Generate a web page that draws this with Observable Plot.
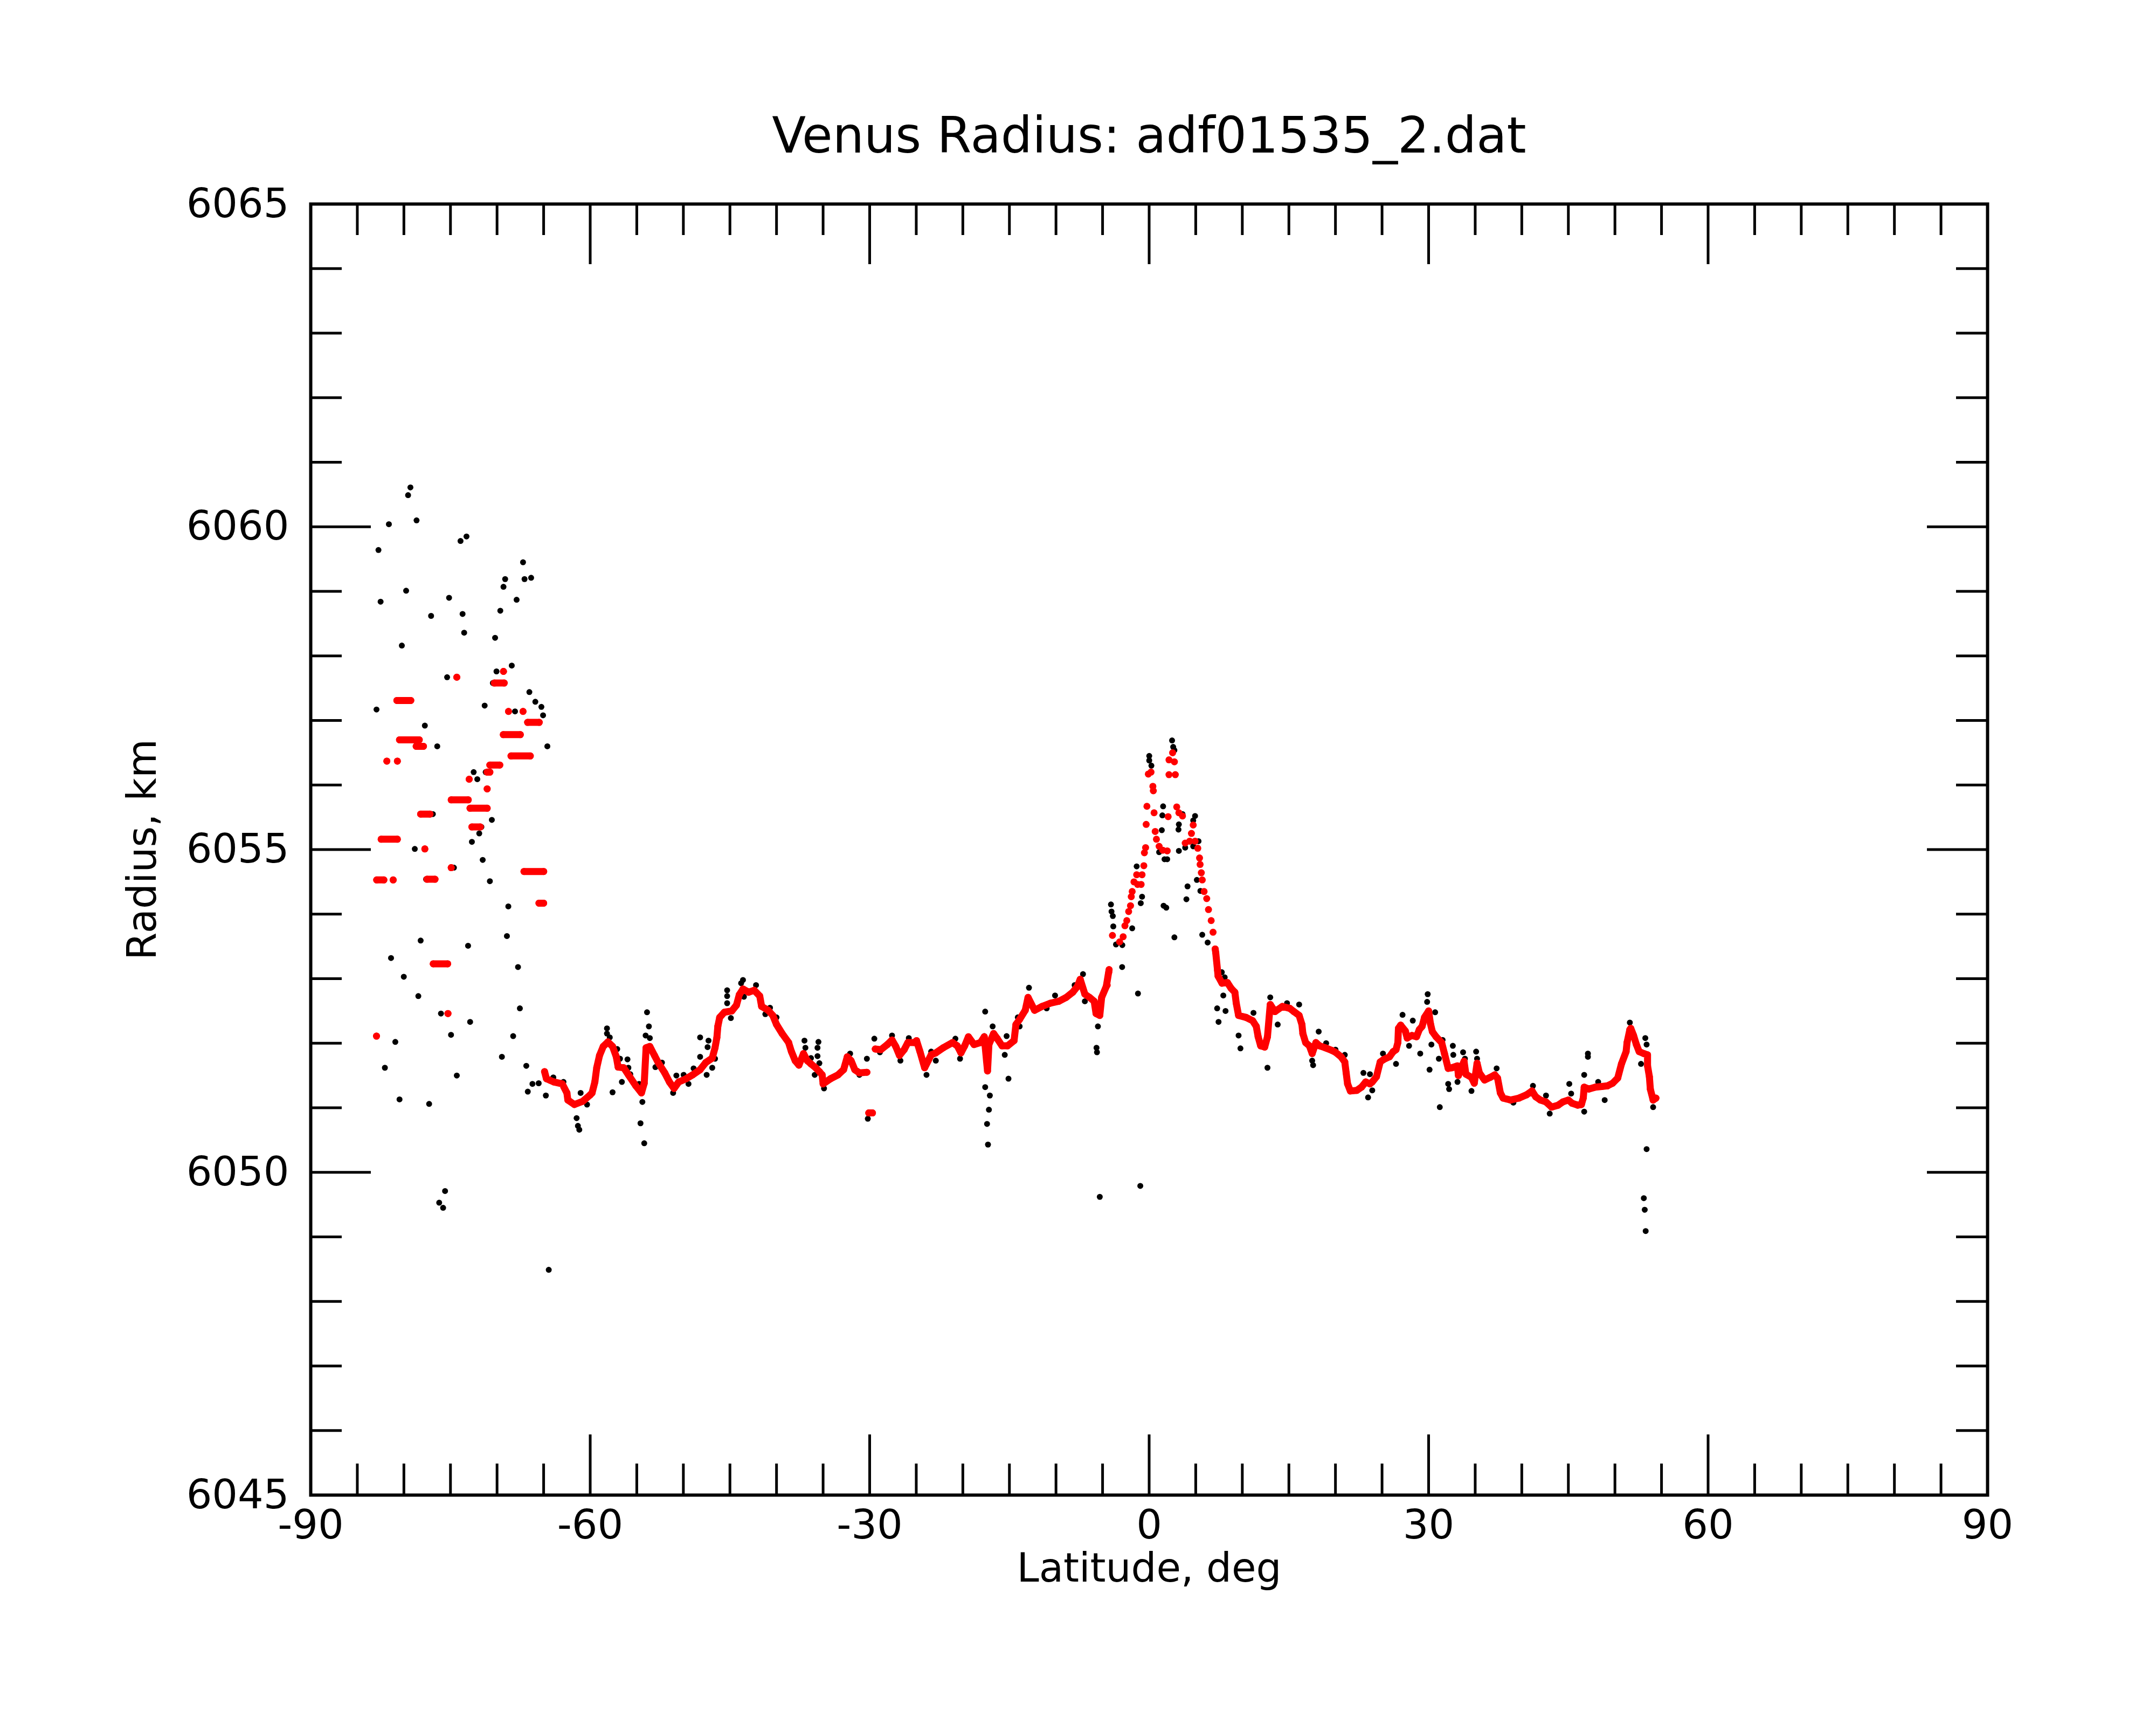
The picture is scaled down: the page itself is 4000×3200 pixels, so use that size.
<!DOCTYPE html>
<html>
<head>
<meta charset="utf-8">
<script src="https://cdn.jsdelivr.net/npm/d3@7"></script>
<script src="https://cdn.jsdelivr.net/npm/@observablehq/plot@0.6"></script>
<style>
html, body { margin: 0; padding: 0; background: #ffffff; }
</style>
</head>
<body>
<div id="chart"></div>
<script>
// ---------- Chart text ----------
const titleText = "Venus Radius: adf01535_2.dat";
const xLabel = "Latitude, deg";
const yLabel = "Radius, km";

// ---------- Axis ticks ----------
const xMajorTicks = [-90, -60, -30, 0, 30, 60, 90];
const xMinorTicks = [-85, -80, -75, -70, -65, -55, -50, -45, -40, -35, -25, -20, -15, -10, -5,
                     5, 10, 15, 20, 25, 35, 40, 45, 50, 55, 65, 70, 75, 80, 85];
const yMajorTicks = [6045, 6050, 6055, 6060, 6065];
const yMinorTicks = [6046, 6047, 6048, 6049, 6051, 6052, 6053, 6054, 6056, 6057, 6058, 6059,
                     6061, 6062, 6063, 6064];

// ---------- Raw radius samples (black), [latitude, radius] ----------
const blackPolarHigh = [
  [-79.30,6060.61],[-79.55,6060.49],[-78.64,6060.10],[-81.61,6060.04],[-82.73,6059.64],[-73.92,6059.78],
  [-73.28,6059.85],[-67.21,6059.45],[-69.13,6059.19],[-67.05,6059.19],[-66.34,6059.21],[-69.31,6059.07],
  [-79.76,6059.01],[-82.50,6058.84],[-75.15,6058.90],[-67.90,6058.87],[-77.08,6058.62],[-73.70,6058.65],
  [-69.65,6058.70],[-73.53,6058.36],[-70.21,6058.28],[-80.22,6058.16],[-68.42,6057.85],[-70.06,6057.76],
  [-75.36,6057.67],[-70.45,6057.58],[-66.53,6057.44],[-80.80,6057.31],[-82.94,6057.17],[-71.33,6057.23],
  [-65.89,6057.29],[-65.24,6057.21],[-65.06,6057.08],[-68.07,6057.14],[-77.75,6056.92],[-77.97,6056.60],
  [-76.42,6056.60],[-64.60,6056.60],[-69.79,6056.31],[-72.51,6056.20],[-71.22,6056.20],[-72.12,6056.09],
  [-76.89,6055.55],[-70.56,6055.46],[-71.68,6055.35],[-71.91,6055.25],[-72.70,6055.12],[-78.83,6055.01],
  [-71.54,6054.84],[-74.63,6054.72],[-82.25,6054.53],[-70.77,6054.51],[-77.62,6054.54]
];
const blackPolarLow = [
  [-68.79,6054.12],[-65.47,6054.17],[-68.94,6053.66],[-78.20,6053.59],[-81.38,6053.32],[-73.11,6053.51],
  [-67.75,6053.18],[-80.01,6053.03],[-78.45,6052.73],[-67.55,6052.54],[-76.02,6052.46],[-72.89,6052.33],
  [-74.94,6052.13],[-68.27,6052.11],[-80.92,6052.02],[-69.48,6051.79],[-82.04,6051.62],[-74.32,6051.50],
  [-66.86,6051.65],[-66.20,6051.37],[-65.53,6051.38],[-66.70,6051.25],[-64.76,6051.19],[-63.96,6051.47],
  [-62.87,6051.40],[-61.03,6051.23],[-60.34,6051.05],[-61.46,6050.84],[-61.32,6050.72],[-61.17,6050.66],
  [-80.47,6051.13],[-77.29,6051.06],[-75.58,6049.71],[-76.21,6049.53],[-75.79,6049.45],[-64.45,6048.49]
];
const blackSouth = [
  [-58.2,6052.23],[-58.2,6052.15],[-57.9,6052.09],[-57.6,6051.24],[-57.1,6051.91],[-56.8,6051.76],
  [-56.6,6051.40],[-56.0,6051.75],[-55.9,6051.62],[-55.7,6051.52],[-54.75,6051.37],[-54.4,6051.09],
  [-54.6,6050.76],[-54.2,6050.45],[-53.9,6052.48],[-53.7,6052.26],[-54.05,6052.12],[-53.6,6052.08],
  [-53.0,6051.63],[-52.3,6051.70],[-51.1,6051.23],[-50.75,6051.50],[-49.97,6051.51],[-49.45,6051.37],
  [-48.9,6051.61],[-48.2,6052.09],[-48.2,6051.79],[-47.5,6051.51],[-47.3,6052.04],[-47.4,6051.94],
  [-46.9,6051.62],[-46.6,6051.76],[-45.3,6052.82],[-45.3,6052.73],[-45.3,6052.62],[-44.9,6052.39],
  [-45.8,6052.45],[-43.6,6052.98],[-43.8,6052.93],[-43.5,6052.72],[-42.2,6052.90],[-41.2,6052.45],
  [-40.7,6052.55],[-40.0,6052.40],[-37.0,6052.04],[-36.9,6051.93],[-36.3,6051.77],[-35.5,6052.02],
  [-35.6,6051.93],[-35.6,6051.80],[-35.4,6051.69],[-35.9,6051.51],[-34.9,6051.30],[-32.1,6051.84],
  [-31.1,6051.51],[-30.3,6051.76],[-30.2,6050.83],[-29.5,6052.07],[-28.9,6051.86],[-27.6,6052.12],
  [-26.7,6051.73],[-25.8,6052.08]
];
const blackEquator = [
  [-23.9,6051.51],[-23.4,6051.87],[-22.9,6051.73],[-20.8,6052.07],[-20.3,6051.76],[-17.6,6052.49],
  [-17.7,6052.11],[-16.8,6052.26],[-17.6,6051.32],[-17.1,6051.19],[-17.2,6050.97],[-17.4,6050.75],
  [-17.3,6050.43],[-15.5,6051.82],[-15.3,6052.11],[-15.1,6051.45],[-14.1,6052.40],[-13.9,6052.26],
  [-12.9,6052.86],[-11.0,6052.54],[-10.1,6052.74],[-8.0,6052.90],[-7.1,6053.07],[-6.9,6052.65],
  [-5.5,6052.26],[-5.65,6051.93],[-5.6,6051.86],[-5.3,6049.62],[-2.9,6053.18],[-1.2,6052.77],
  [-0.95,6049.79],[7.8,6053.10],[7.96,6052.74],[7.3,6052.54],[7.45,6052.33],[8.2,6052.50],
  [9.6,6052.12],[9.8,6051.92],[11.2,6052.47],[12.7,6051.62],[13.0,6052.71],[13.8,6052.29],[14.8,6052.62]
];
const blackPeak = [
  [2.46,6056.69],[2.58,6056.59],[2.71,6056.54],[0.01,6056.45],[0.01,6056.38],[0.24,6056.30],
  [1.5,6055.67],[1.42,6055.53],[1.36,6055.30],[3.19,6055.39],[3.15,6055.31],[3.58,6055.55],
  [4.93,6055.52],[4.73,6055.45],[3.87,6055.03],[3.19,6054.98],[4.73,6055.05],[5.3,6055.13],
  [1.07,6054.96],[1.65,6054.85],[1.94,6054.85],[-1.34,6054.74],[-0.76,6054.27],[-0.9,6054.17],
  [1.55,6054.13],[1.84,6054.10],[4.12,6054.43],[4.0,6054.23],[5.12,6054.53],[5.5,6054.36],
  [-4.1,6054.15],[-4.04,6054.04],[-3.9,6053.97],[-3.85,6053.81],[-1.82,6053.78],[-2.88,6053.52],
  [-3.56,6053.53],[2.71,6053.64],[5.7,6053.68],[6.28,6053.56],[8.11,6053.02]
];
const blackNorth = [
  [16.1,6052.60],[18.2,6052.18],[17.5,6051.73],[17.6,6051.66],[19.0,6052.00],[20.0,6051.90],
  [21.0,6051.82],[23.0,6051.54],[23.7,6051.52],[23.5,6051.16],[23.95,6051.27],[25.1,6051.84],
  [26.5,6051.68],[27.2,6052.44],[28.3,6052.35],[27.9,6051.96],[29.1,6051.84],[29.9,6052.76],
  [29.84,6052.64],[30.7,6052.48],[30.3,6051.98],[30.1,6051.59],[31.2,6051.01],[31.5,6052.05],
  [31.1,6051.76],[32.6,6051.96],[32.65,6051.82],[32.1,6051.37],[32.2,6051.29],[33.1,6051.40],
  [33.7,6051.86],[33.9,6051.76],[34.6,6051.26],[35.1,6051.87],[35.2,6051.76],[37.3,6051.61],
  [39.1,6051.08],[41.2,6051.34],[42.6,6051.19],[43.0,6050.91],[45.1,6051.37],[45.3,6051.22],
  [46.7,6050.94],[46.7,6051.51],[47.1,6051.84],[47.1,6051.79],[48.2,6051.40],[48.9,6051.12],
  [51.6,6052.32],[53.26,6052.08],[53.4,6051.98],[52.8,6051.68],[54.1,6051.01],[53.4,6050.36],
  [53.1,6049.60],[53.2,6049.42],[53.3,6049.09]
];

// ---------- Smoothed radius (red), runs in the polar region: [lat, radius, run id] ----------
const redPolarRuns = [
  [-69.31,6057.76,1],[-74.32,6057.67,2],[-70.29,6057.58,3],[-69.23,6057.58,3],
  [-80.75,6057.31,4],[-79.26,6057.31,4],[-68.77,6057.14,5],[-67.21,6057.14,6],
  [-66.72,6056.97,7],[-65.47,6056.97,7],[-69.33,6056.78,8],[-67.5,6056.78,8],
  [-80.47,6056.70,9],[-79.74,6056.70,9],[-79.55,6056.70,10],[-78.35,6056.70,10],
  [-78.68,6056.60,11],[-77.9,6056.60,11],[-81.83,6056.37,12],[-80.7,6056.37,13],
  [-68.5,6056.45,14],[-66.43,6056.45,14],[-70.77,6056.31,15],[-69.71,6056.31,15],
  [-71.06,6056.20,16],[-70.77,6056.20,16],[-72.99,6056.09,17],[-71.06,6055.94,18],
  [-74.92,6055.77,19],[-73.09,6055.77,19],[-72.9,6055.64,20],[-71.06,6055.64,20],
  [-78.2,6055.55,21],[-77.2,6055.55,21],[-72.7,6055.35,22],[-71.8,6055.35,22],
  [-82.44,6055.16,23],[-80.7,6055.16,23],[-77.75,6055.01,24],[-74.92,6054.72,25],
  [-67.11,6054.66,26],[-64.99,6054.66,26],[-82.92,6054.53,27],[-82.15,6054.53,27],
  [-81.15,6054.53,28],[-77.52,6054.54,29],[-76.66,6054.54,29],[-65.5,6054.17,30],
  [-65.0,6054.17,30],[-76.85,6053.23,31],[-75.3,6053.23,31],[-75.27,6052.46,32],
  [-82.94,6052.11,33],[-30.1,6050.92,34],[-29.7,6050.92,34]
];
// Smoothed radius, southern band [lat, radius]
const redSouthBand = [
  [-64.9,6051.56],[-64.7,6051.45],[-63.9,6051.40],[-63.0,6051.37],[-62.5,6051.23],[-62.4,6051.12],
  [-61.7,6051.05],[-60.8,6051.10],[-60.0,6051.20],[-59.8,6051.23],[-59.5,6051.40],[-59.3,6051.62],
  [-59.0,6051.81],[-58.6,6051.95],[-58.1,6052.02],[-57.6,6051.95],[-57.2,6051.79],[-57.0,6051.63],
  [-56.4,6051.62],[-55.9,6051.51],[-55.1,6051.34],[-54.5,6051.23],[-54.2,6051.38],[-54.0,6051.93],
  [-53.6,6051.95],[-53.1,6051.81],[-52.7,6051.70],[-52.0,6051.54],[-51.5,6051.40],[-51.0,6051.30],
  [-50.5,6051.40],[-49.7,6051.45],[-49.0,6051.51],[-48.2,6051.59],[-47.6,6051.70],[-46.9,6051.77],
  [-46.6,6051.93],[-46.4,6052.09],[-46.3,6052.26],[-46.1,6052.40],[-45.6,6052.48],[-44.8,6052.50],
  [-44.3,6052.59],[-44.0,6052.75],[-43.6,6052.84],[-43.0,6052.79],[-42.4,6052.82],[-41.8,6052.73],
  [-41.6,6052.57],[-40.9,6052.51],[-40.4,6052.43],[-40.0,6052.29],[-39.4,6052.15],[-38.7,6052.01],
  [-38.4,6051.87],[-38.0,6051.73],[-37.6,6051.66],[-37.1,6051.84],[-36.7,6051.73],[-36.3,6051.68],
  [-35.8,6051.62],[-35.4,6051.56],[-35.1,6051.51],[-35.0,6051.37],[-34.2,6051.45],[-33.4,6051.51],
  [-32.8,6051.59],[-32.4,6051.79],[-32.0,6051.73],[-31.6,6051.59],[-31.1,6051.54],[-30.3,6051.55]
];
// Smoothed radius, equatorial band [lat, radius]
const redEquatorBand = [
  [-29.4,6051.91],[-28.8,6051.90],[-28.1,6051.98],[-27.6,6052.05],[-27.2,6051.95],[-26.8,6051.81],
  [-26.3,6051.90],[-25.9,6052.01],[-25.2,6052.01],[-24.97,6052.04],[-24.6,6051.87],[-24.1,6051.62],
  [-23.4,6051.82],[-22.9,6051.85],[-22.1,6051.93],[-21.1,6052.01],[-20.6,6051.96],[-20.2,6051.85],
  [-19.8,6051.96],[-19.4,6052.10],[-18.8,6051.98],[-18.1,6052.01],[-17.7,6052.10],[-17.45,6051.72],
  [-17.35,6051.57],[-17.2,6051.98],[-16.7,6052.15],[-16.3,6052.07],[-15.8,6051.96],[-15.2,6051.96],
  [-14.5,6052.04],[-14.3,6052.29],[-13.9,6052.37],[-13.3,6052.51],[-13.0,6052.71],[-12.3,6052.51],
  [-11.5,6052.57],[-10.6,6052.62],[-9.7,6052.65],[-8.9,6052.71],[-8.2,6052.79],[-7.7,6052.88],
  [-7.4,6052.99],[-6.9,6052.76],[-6.4,6052.71],[-5.9,6052.65],[-5.7,6052.46],[-5.3,6052.43],
  [-5.1,6052.71],[-4.6,6052.88],[-4.3,6053.14]
];
// Smoothed radius around the equatorial peak (separate points) [lat, radius]
const redPeak = [
  [-4.5,6052.90],[-4.33,6053.10],[-3.94,6053.67],[-3.17,6053.57],[-2.79,6053.65],[-2.6,6053.82],
  [-2.4,6053.90],[-2.2,6054.04],[-2.0,6054.13],[-1.92,6054.27],[-1.82,6054.35],[-1.63,6054.50],
  [-1.24,6054.46],[-0.86,6054.46],[-1.34,6054.61],[-0.76,6054.61],[-0.57,6054.75],[-0.51,6054.95],
  [-0.38,6055.03],[-0.32,6055.39],[-0.24,6055.67],[-0.09,6056.17],[0.2,6056.20],[0.4,6055.98],
  [0.45,6055.91],[0.53,6055.57],[0.65,6055.28],[0.78,6055.16],[1.07,6055.05],[1.46,6054.99],
  [1.94,6054.98],[2.04,6055.51],[2.13,6056.16],[2.81,6056.16],[2.13,6056.39],[2.71,6056.36],
  [2.52,6056.50],[2.96,6055.66],[3.19,6055.57],[3.58,6055.52],[3.87,6055.10],[4.35,6055.13],
  [4.54,6055.25],[4.73,6055.38],[4.93,6055.13],[5.22,6055.02],[5.41,6054.87],[5.47,6054.77],
  [5.6,6054.64],[5.7,6054.53],[5.9,6054.35],[6.18,6054.24],[6.37,6054.07],[6.66,6053.90],[6.86,6053.72]
];
// Smoothed radius, northern band [lat, radius]
const redNorthBand = [
  [7.09,6053.46],[7.15,6053.40],[7.34,6053.13],[7.4,6053.04],[7.82,6052.93],[8.4,6052.94],
  [8.8,6052.85],[9.2,6052.79],[9.35,6052.62],[9.6,6052.43],[10.4,6052.40],[11.1,6052.35],
  [11.5,6052.26],[11.7,6052.10],[11.97,6051.96],[12.4,6051.94],[12.7,6052.10],[13.0,6052.60],
  [13.5,6052.49],[14.3,6052.57],[15.1,6052.54],[15.54,6052.49],[16.1,6052.43],[16.4,6052.29],
  [16.5,6052.15],[16.8,6052.01],[17.2,6051.96],[17.5,6051.84],[17.9,6052.01],[18.3,6051.96],
  [18.9,6051.93],[19.6,6051.89],[20.0,6051.86],[20.6,6051.79],[21.0,6051.71],[21.15,6051.54],
  [21.3,6051.37],[21.6,6051.26],[22.3,6051.27],[22.8,6051.32],[23.25,6051.40],[23.7,6051.37],
  [23.95,6051.40],[24.4,6051.48],[24.8,6051.71],[25.2,6051.75],[25.8,6051.79],[26.2,6051.87],
  [26.5,6051.90],[26.7,6052.01],[26.76,6052.23],[27.0,6052.28],[27.5,6052.19],[27.7,6052.08],
  [28.2,6052.12],[28.7,6052.10],[29.0,6052.21],[29.3,6052.26],[29.56,6052.40],[30.0,6052.50],
  [30.2,6052.30],[30.4,6052.18],[30.8,6052.10],[31.4,6052.01],[31.7,6051.84],[32.1,6051.61],
  [32.5,6051.62],[33.1,6051.65],[33.2,6051.50],[33.8,6051.72],[34.0,6051.52],[34.6,6051.47],
  [34.9,6051.38],[35.2,6051.69],[35.45,6051.54],[36.0,6051.43],[36.6,6051.47],[37.1,6051.51],
  [37.4,6051.46],[37.7,6051.23],[38.0,6051.15],[38.8,6051.12],[39.7,6051.15],[40.5,6051.20],
  [41.1,6051.26],[41.5,6051.17],[42.0,6051.12],[42.6,6051.09],[43.2,6051.01],[43.9,6051.04],
  [44.4,6051.09],[45.0,6051.12],[45.4,6051.07],[46.0,6051.04],[46.4,6051.05],[46.6,6051.15],
  [46.7,6051.32],[47.2,6051.29],[47.9,6051.32],[48.6,6051.33],[49.2,6051.34],[49.75,6051.38],
  [50.3,6051.46],[50.7,6051.68],[51.2,6051.87],[51.3,6052.01],[51.6,6052.21],[51.7,6052.23],
  [52.0,6052.12],[52.3,6051.98],[52.6,6051.87],[53.1,6051.84],[53.5,6051.82],[53.5,6051.65],
  [53.7,6051.48],[53.8,6051.29],[54.1,6051.12],[54.4,6051.15]
];

// ---------- Build tables for the library ----------
const black = [...blackPolarHigh, ...blackPolarLow, ...blackSouth, ...blackEquator, ...blackPeak, ...blackNorth]
  .map(([lat, r]) => ({lat, r}));
const redLines = [
  ...redPolarRuns.map(([lat, r, id]) => ({lat, r, seg: "run" + id})),
  ...redSouthBand.map(([lat, r]) => ({lat, r, seg: "south"})),
  ...redEquatorBand.map(([lat, r]) => ({lat, r, seg: "equator"})),
  ...redNorthBand.map(([lat, r]) => ({lat, r, seg: "north"}))
];
const redDots = [...redLines, ...redPeak.map(([lat, r]) => ({lat, r, seg: "peak"}))];

// ---------- Layout ----------
const W = 4000, H = 3200;
const mL = 576, mR = 313, mT = 378, mB = 427;
const frameW = W - mL - mR, frameH = H - mT - mB;
const majLen = 112, minLen = 58, tickW = 5;

const chart = Plot.plot({
  width: W,
  height: H,
  marginLeft: mL,
  marginRight: mR,
  marginTop: mT,
  marginBottom: mB,
  style: {fontFamily: "'DejaVu Sans', sans-serif", fontSize: "75px", background: "#ffffff", color: "#000000"},
  x: {domain: [-90, 90], label: null},
  y: {domain: [6045, 6065], label: null},
  marks: [
    Plot.dot(black, {x: "lat", y: "r", r: 5.5, fill: "#000000"}),
    Plot.line(redLines, {x: "lat", y: "r", z: "seg", stroke: "#ff0000", strokeWidth: 13,
                         strokeLinecap: "round", strokeLinejoin: "round"}),
    Plot.dot(redDots, {x: "lat", y: "r", r: 6.5, fill: "#ff0000"}),
    // inward ticks on all four sides
    Plot.ruleX(xMinorTicks, {insetTop: frameH - minLen, stroke: "#000", strokeWidth: tickW}),
    Plot.ruleX(xMinorTicks, {insetBottom: frameH - minLen, stroke: "#000", strokeWidth: tickW}),
    Plot.ruleX(xMajorTicks, {insetTop: frameH - majLen, stroke: "#000", strokeWidth: tickW}),
    Plot.ruleX(xMajorTicks, {insetBottom: frameH - majLen, stroke: "#000", strokeWidth: tickW}),
    Plot.ruleY(yMinorTicks, {insetRight: frameW - minLen, stroke: "#000", strokeWidth: tickW}),
    Plot.ruleY(yMinorTicks, {insetLeft: frameW - minLen, stroke: "#000", strokeWidth: tickW}),
    Plot.ruleY(yMajorTicks, {insetRight: frameW - majLen, stroke: "#000", strokeWidth: tickW}),
    Plot.ruleY(yMajorTicks, {insetLeft: frameW - majLen, stroke: "#000", strokeWidth: tickW}),
    Plot.frame({stroke: "#000", strokeWidth: 6}),
    Plot.axisX({anchor: "bottom", ticks: xMajorTicks, tickSize: 0, tickPadding: 27,
                tickFormat: d => String(d), label: null, fontSize: 75}),
    Plot.axisY({anchor: "left", ticks: yMajorTicks, tickSize: 0, tickPadding: 40,
                tickFormat: d => String(d), label: null, fontSize: 75}),
    Plot.text([titleText], {text: d => d, frameAnchor: "top", dy: -96, lineAnchor: "bottom",
                            fontSize: 92, fill: "#000"}),
    Plot.text([xLabel], {text: d => d, frameAnchor: "bottom", dy: 160, lineAnchor: "bottom",
                         fontSize: 74, fill: "#000"}),
    Plot.text([yLabel], {text: d => d, frameAnchor: "left", dx: -311, rotate: -90,
                         lineAnchor: "middle", textAnchor: "middle", fontSize: 74, fill: "#000"})
  ]
});
document.getElementById("chart").appendChild(chart);
</script>
</body>
</html>
